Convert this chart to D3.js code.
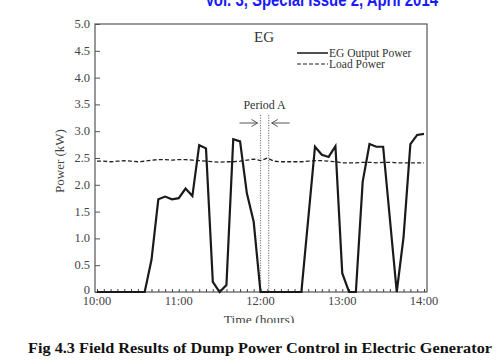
<!DOCTYPE html>
<html>
<head>
<meta charset="utf-8">
<title>EG Field Results</title>
<script src="https://cdnjs.cloudflare.com/ajax/libs/d3/7.8.5/d3.min.js"></script>
<style>
  html, body { margin: 0; padding: 0; background: #fff; }
  svg { display: block; }
  .tick-lbl { font-family: 'Liberation Serif', 'DejaVu Serif', serif; font-size: 12.5px; fill: #444; }
</style>
</head>
<body>
<div id="chart"></div>
<script>
// EG output power samples (time, kW)
const egTimes = ["10:00","10:35","10:40","10:45","10:50","10:55","11:00","11:05","11:10","11:15","11:20","11:25",
  "11:30","11:35","11:40","11:45","11:50","11:55","12:00","12:30","12:40","12:45","12:50","12:55",
  "13:00","13:05","13:10","13:15","13:20","13:25","13:30","13:40","13:45","13:50","13:55","14:00"];
const egValues = [0,0,0.6,1.73,1.78,1.73,1.75,1.93,1.79,2.74,2.68,0.19,
  0,0.13,2.85,2.81,1.84,1.31,0,0,2.71,2.56,2.52,2.72,
  0.35,0,0,2.06,2.76,2.71,2.71,0,1.03,2.76,2.93,2.95];

// load power, every 5 minutes from 10:00 to 14:00
const loadValues = [2.44,2.44,2.43,2.44,2.45,2.44,2.43,2.44,2.46,2.47,2.47,2.46,
  2.47,2.47,2.46,2.45,2.44,2.43,2.42,2.43,2.43,2.44,2.46,2.48,
  2.45,2.50,2.44,2.43,2.43,2.43,2.43,2.44,2.45,2.45,2.44,2.43,
  2.41,2.41,2.41,2.42,2.42,2.41,2.42,2.42,2.41,2.41,2.41,2.41,2.41];

const xTickLabels = ["10:00","11:00","12:00","13:00","14:00"];
const yTicks = [0,0.5,1.0,1.5,2.0,2.5,3.0,3.5,4.0,4.5,5.0];
const periodA = ["12:00","12:06"];

const W = 501, H = 364;
const parse = d3.timeParse("%H:%M");

const svg = d3.select("#chart").append("svg")
  .attr("width", W).attr("height", H);

const x = d3.scaleTime()
  .domain([parse("10:00"), parse("14:00")])
  .range([97, 424]);
const y = d3.scaleLinear().domain([0, 5]).range([292, 24]);

// header, only its lower half shows at the top of the page
svg.append("text")
  .attr("x", 205).attr("y", 6)
  .attr("textLength", 233).attr("lengthAdjust", "spacingAndGlyphs")
  .style("font-family", "'Liberation Sans', Arial, sans-serif")
  .style("font-weight", "bold").style("font-size", "18px")
  .style("fill", "#1a1aff")
  .text("Vol. 3, Special Issue 2, April 2014");

// frame
svg.append("rect")
  .attr("x", 95).attr("y", 24).attr("width", 332).attr("height", 268)
  .attr("fill", "none").attr("stroke", "#555").attr("stroke-width", 1.2);

// y axis ticks inside
const yAxis = d3.axisRight(y).tickValues(yTicks).tickSize(5).tickFormat("");
svg.append("g").attr("transform", "translate(95,0)").call(yAxis)
  .call(g => g.select(".domain").remove())
  .call(g => g.selectAll("line").attr("stroke", "#555"));
svg.append("g").selectAll("text").data(yTicks).join("text")
  .attr("class", "tick-lbl")
  .attr("x", 90).attr("y", d => d === 0 ? y(d) + 1.5 : y(d) + 4)
  .attr("text-anchor", "end")
  .text(d => d === 0 ? "0" : d.toFixed(1));

// x axis: minor ticks every 5 minutes pointing up
const xAxis = d3.axisTop(x).ticks(d3.timeMinute.every(5)).tickSize(3).tickFormat("");
svg.append("g").attr("transform", "translate(0,292)").call(xAxis)
  .call(g => g.select(".domain").remove())
  .call(g => g.selectAll("line").attr("stroke", "#444"));
svg.append("g").selectAll("text").data(xTickLabels).join("text")
  .attr("class", "tick-lbl")
  .attr("x", d => x(parse(d))).attr("y", 305)
  .attr("text-anchor", "middle")
  .text(d => d);

// axis titles
svg.append("text")
  .attr("transform", "translate(64,161) rotate(-90)")
  .attr("text-anchor", "middle")
  .style("font-family", "'Liberation Serif', serif").style("font-size", "13px").style("fill", "#444")
  .text("Power (kW)");

svg.append("clipPath").attr("id", "cut")
  .append("rect").attr("x", 0).attr("y", 0).attr("width", W).attr("height", 323);
svg.append("text")
  .attr("clip-path", "url(#cut)")
  .attr("x", 259).attr("y", 324)
  .attr("text-anchor", "middle")
  .style("font-family", "'Liberation Serif', serif").style("font-size", "13.5px").style("fill", "#444")
  .text("Time (hours)");

// period A markers
svg.append("g").selectAll("line").data(periodA).join("line")
  .attr("x1", d => x(parse(d))).attr("x2", d => x(parse(d)))
  .attr("y1", 115).attr("y2", 292)
  .attr("stroke", "#888").attr("stroke-width", 1.2).attr("stroke-dasharray", "1.2,1.3");

const pa0 = x(parse(periodA[0])), pa1 = x(parse(periodA[1]));
const arrows = svg.append("g").attr("stroke", "#555").attr("stroke-width", 1).attr("fill", "none");
arrows.append("line").attr("x1", pa0 - 21).attr("x2", pa0 - 3).attr("y1", 123).attr("y2", 123);
arrows.append("polyline").attr("points", `${pa0 - 9},119.5 ${pa0 - 3},123 ${pa0 - 9},126.5`);
arrows.append("line").attr("x1", pa1 + 21).attr("x2", pa1 + 3).attr("y1", 123).attr("y2", 123);
arrows.append("polyline").attr("points", `${pa1 + 9},119.5 ${pa1 + 3},123 ${pa1 + 9},126.5`);
svg.append("text")
  .attr("x", (pa0 + pa1) / 2).attr("y", 109)
  .attr("text-anchor", "middle")
  .style("font-family", "'Liberation Serif', serif").style("font-size", "12px").style("fill", "#333")
  .text("Period A");

// lines
const loadData = loadValues.map((v, i) => [d3.timeMinute.offset(parse("10:00"), i * 5), v]);
const egData = egTimes.map((t, i) => [parse(t), egValues[i]]);
const line = d3.line().x(d => x(d[0])).y(d => y(d[1]));

svg.append("path").datum(loadData)
  .attr("d", line).attr("fill", "none")
  .attr("stroke", "#222").attr("stroke-width", 1.3).attr("stroke-dasharray", "4,2.2");

svg.append("path").datum(egData)
  .attr("d", line).attr("fill", "none")
  .attr("stroke", "#1a1a1a").attr("stroke-width", 2.2).attr("stroke-linejoin", "miter");

// EG label
svg.append("text")
  .attr("x", 264).attr("y", 42).attr("text-anchor", "middle")
  .style("font-family", "'Liberation Serif', serif").style("font-size", "15px").style("fill", "#333")
  .text("EG");

// legend
const legend = [
  { label: "EG Output Power", dash: null, w: 1.6, y: 53 },
  { label: "Load Power", dash: "4,2", w: 1.2, y: 64 }
];
const lg = svg.append("g");
lg.selectAll("line").data(legend).join("line")
  .attr("x1", 297).attr("x2", 328).attr("y1", d => d.y).attr("y2", d => d.y)
  .attr("stroke", "#222").attr("stroke-width", d => d.w)
  .attr("stroke-dasharray", d => d.dash);
lg.selectAll("text").data(legend).join("text")
  .attr("x", 329).attr("y", d => d.y + 3.5)
  .style("font-family", "'Liberation Serif', serif").style("font-size", "11.5px").style("fill", "#333")
  .text(d => d.label);

// caption
svg.append("text")
  .attr("x", 260).attr("y", 353).attr("text-anchor", "middle")
  .attr("textLength", 464).attr("lengthAdjust", "spacingAndGlyphs")
  .style("font-family", "'Liberation Serif', serif").style("font-weight", "bold")
  .style("font-size", "15px").style("fill", "#111")
  .text("Fig 4.3 Field Results of Dump Power Control in Electric Generator");
</script>
</body>
</html>
